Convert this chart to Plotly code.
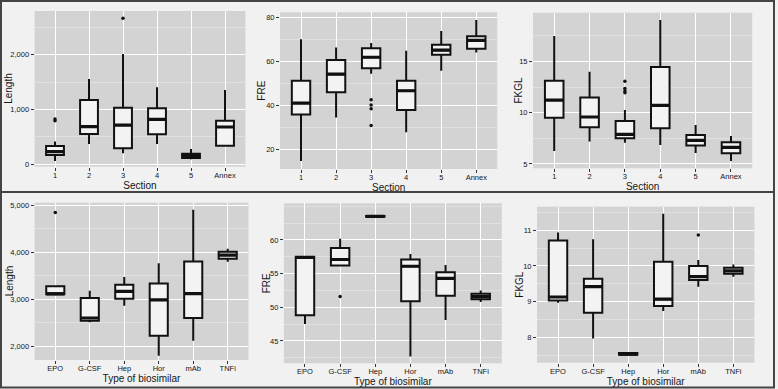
import plotly.graph_objects as go
from plotly.subplots import make_subplots

# ---------------- data ----------------
sections = ["1", "2", "3", "4", "5", "Annex"]
biosimilars = ["EPO", "G-CSF", "Hep", "Hor", "mAb", "TNFi"]

# Length by Section
len_sec_low = [55, 366, 195, 366, 85, 329]
len_sec_q1 = [165, 549, 287, 543, 110, 335]
len_sec_med = [225, 683, 713, 817, 152, 677]
len_sec_q3 = [330, 1171, 1030, 1018, 189, 793]
len_sec_high = [410, 1555, 2012, 1402, 274, 1354]
len_sec_out_x = ["1", "1", "3"]
len_sec_out_y = [790, 825, 2665]

# FRE by Section
fre_sec_low = [14.9, 34.6, 54.4, 27.9, 55.8, 64.1]
fre_sec_q1 = [35.9, 46.0, 56.9, 38.0, 63.0, 65.8]
fre_sec_med = [41.1, 54.2, 61.9, 46.7, 65.1, 69.5]
fre_sec_q3 = [51.2, 60.6, 66.0, 51.2, 67.6, 71.4]
fre_sec_high = [70.1, 66.3, 68.3, 64.8, 73.8, 78.8]
fre_sec_out_x = ["3", "3", "3", "3"]
fre_sec_out_y = [30.9, 38.5, 40.3, 42.6]

# FKGL by Section
fk_sec_low = [6.27, 7.18, 7.08, 6.85, 6.07, 5.29]
fk_sec_q1 = [9.51, 8.57, 7.50, 8.47, 6.79, 6.04]
fk_sec_med = [11.23, 9.58, 7.89, 10.71, 7.31, 6.62]
fk_sec_q3 = [13.12, 11.49, 9.19, 14.45, 7.82, 7.11]
fk_sec_high = [17.47, 13.99, 10.26, 19.03, 8.80, 7.73]
fk_sec_out_x = ["3", "3", "3", "3"]
fk_sec_out_y = [11.95, 12.1, 12.35, 13.05]

# Length by type of biosimilar
len_bio_low = [3100, 2503, 2858, 1794, 2113, 3794]
len_bio_q1 = [3100, 2539, 3007, 2220, 2596, 3858]
len_bio_med = [3110, 2596, 3163, 2980, 3113, 3936]
len_bio_q3 = [3270, 3021, 3305, 3330, 3801, 4007]
len_bio_high = [3270, 3177, 3468, 3760, 4900, 4071]
len_bio_out_x = ["EPO"]
len_bio_out_y = [4844]

# FRE by type of biosimilar
fre_bio_low = [47.5, 56.2, 63.45, 42.7, 48.1, 50.8]
fre_bio_q1 = [48.8, 56.2, 63.45, 50.9, 51.7, 51.2]
fre_bio_med = [57.4, 57.1, 63.5, 56.1, 54.3, 51.6]
fre_bio_q3 = [57.5, 58.8, 63.58, 57.1, 55.2, 52.0]
fre_bio_high = [57.6, 60.2, 63.58, 57.9, 56.3, 52.5]
fre_bio_out_x = ["G-CSF"]
fre_bio_out_y = [51.6]

# FKGL by type of biosimilar
fk_bio_low = [8.97, 7.97, 7.51, 8.74, 9.42, 9.70]
fk_bio_q1 = [9.03, 8.69, 7.51, 8.88, 9.61, 9.78]
fk_bio_med = [9.13, 9.42, 7.53, 9.07, 9.70, 9.86]
fk_bio_q3 = [10.71, 9.64, 7.56, 10.12, 10.00, 9.95]
fk_bio_high = [10.94, 10.75, 7.56, 11.46, 10.17, 10.04]
fk_bio_out_x = ["mAb"]
fk_bio_out_y = [10.87]

# ---------------- styling ----------------
W, H = 778, 389
PANEL_BG = "#d3d3d3"
PAPER_BG = "#f1f1f1"
BOX_FILL = "#f3f3f3"
FONT = "Liberation Sans, Arial, sans-serif"

panels = [
    dict(row=1, col=1, cats=sections, low=len_sec_low, q1=len_sec_q1, med=len_sec_med, q3=len_sec_q3, high=len_sec_high,
         ox=len_sec_out_x, oy=len_sec_out_y, xt="Section", yt="Length", yr=[-49, 2799], tickvals=[0, 1000, 2000], minor=500,
         fmt=",", px=(34.6, 245.4), py=(11.0, 166.7), ytx=9),
    dict(row=1, col=2, cats=sections, low=fre_sec_low, q1=fre_sec_q1, med=fre_sec_med, q3=fre_sec_q3, high=fre_sec_high,
         ox=fre_sec_out_x, oy=fre_sec_out_y, xt="Section", yt="FRE", yr=[11.23, 82.27], tickvals=[20, 40, 60, 80], minor=10,
         fmt="", px=(280.0, 497.3), py=(12.3, 169.0), ytx=262),
    dict(row=1, col=3, cats=sections, low=fk_sec_low, q1=fk_sec_q1, med=fk_sec_med, q3=fk_sec_q3, high=fk_sec_high,
         ox=fk_sec_out_x, oy=fk_sec_out_y, xt="Section", yt="FKGL", yr=[4.58, 19.74], tickvals=[5, 10, 15], minor=2.5,
         fmt="", px=(533.0, 752.2), py=(12.7, 168.3), ytx=518),
    dict(row=2, col=1, cats=biosimilars, low=len_bio_low, q1=len_bio_q1, med=len_bio_med, q3=len_bio_q3, high=len_bio_high,
         ox=len_bio_out_x, oy=len_bio_out_y, xt="Type of biosimilar", yt="Length", yr=[1702, 5050],
         tickvals=[2000, 3000, 4000, 5000], minor=500, fmt=",", px=(34.6, 248.4), py=(202.7, 360.0), ytx=9),
    dict(row=2, col=2, cats=biosimilars, low=fre_bio_low, q1=fre_bio_q1, med=fre_bio_med, q3=fre_bio_q3, high=fre_bio_high,
         ox=fre_bio_out_x, oy=fre_bio_out_y, xt="Type of biosimilar", yt="FRE", yr=[41.68, 65.45],
         tickvals=[45, 50, 55, 60], minor=2.5, fmt="", px=(283.9, 501.8), py=(203.3, 363.3), ytx=266),
    dict(row=2, col=3, cats=biosimilars, low=fk_bio_low, q1=fk_bio_q1, med=fk_bio_med, q3=fk_bio_q3, high=fk_bio_high,
         ox=fk_bio_out_x, oy=fk_bio_out_y, xt="Type of biosimilar", yt="FKGL", yr=[7.29, 11.66],
         tickvals=[8, 9, 10, 11], minor=0.5, fmt="", px=(537.0, 754.4), py=(206.7, 362.7), ytx=520),
]

fig = make_subplots(rows=2, cols=3)

for p in panels:
    # box body, whiskers
    fig.add_trace(go.Box(
        x=p["cats"], q1=p["q1"], median=p["med"], q3=p["q3"],
        lowerfence=p["low"], upperfence=p["high"],
        fillcolor=BOX_FILL, line=dict(color="#111111", width=2),
        boxpoints=False, showlegend=False, whiskerwidth=0, hoverinfo="skip",
    ), row=p["row"], col=p["col"])
    # thicker median bar (ggplot-style), drawn as a collapsed box at the median
    fig.add_trace(go.Box(
        x=p["cats"], q1=p["med"], median=p["med"], q3=p["med"],
        lowerfence=p["med"], upperfence=p["med"],
        fillcolor="rgba(0,0,0,0)", line=dict(color="#111111", width=3.2),
        boxpoints=False, showlegend=False, whiskerwidth=0,
    ), row=p["row"], col=p["col"])
    # outliers
    fig.add_trace(go.Scatter(
        x=p["ox"], y=p["oy"], mode="markers",
        marker=dict(color="#111111", size=3.5), showlegend=False,
    ), row=p["row"], col=p["col"])

axis_font = dict(family=FONT, size=7.5, color="#151515")
title_font = dict(family=FONT, size=10, color="#151515")

annotations = []
for i, p in enumerate(panels):
    n = "" if i == 0 else str(i + 1)
    x0, x1 = p["px"]
    y0, y1 = p["py"]
    fig.layout["xaxis" + n].update(
        domain=[x0 / W, x1 / W], type="category", categoryorder="array", categoryarray=p["cats"],
        range=[-0.6, len(p["cats"]) - 0.4], showgrid=True, gridcolor="white", gridwidth=1.2,
        ticks="outside", ticklen=3, tickcolor="#333333", tickwidth=1, tickfont=axis_font,
        ticklabelstandoff=-2,
        title=dict(text=p["xt"], font=title_font, standoff=0), zeroline=False, showline=False,
        automargin=False,
    )
    fig.layout["yaxis" + n].update(
        domain=[1 - y1 / H, 1 - y0 / H], range=p["yr"], tickvals=p["tickvals"], tickformat=p["fmt"],
        showgrid=True, gridcolor="white", gridwidth=1.2,
        minor=dict(dtick=p["minor"], tick0=0, showgrid=True, gridcolor="#e0e0e0", gridwidth=0.6),
        ticks="outside", ticklen=3, tickcolor="#333333", tickwidth=1, tickfont=axis_font,
        zeroline=False, showline=False, automargin=False,
    )
    annotations.append(dict(
        text=p["yt"], textangle=-90, xref="paper", yref="paper",
        x=p["ytx"] / W, y=1 - (y0 + y1) / 2 / H, xanchor="center", yanchor="middle",
        showarrow=False, font=title_font,
    ))

# frames around the two rows
fig.add_shape(type="rect", xref="paper", yref="paper", x0=1 / W, x1=774 / W, y0=1 - 192 / H, y1=1 - 1 / H,
              line=dict(color="#444444", width=2), layer="above")
fig.add_shape(type="rect", xref="paper", yref="paper", x0=1 / W, x1=774 / W, y0=1 - 387.5 / H, y1=1 - 192 / H,
              line=dict(color="#444444", width=2), layer="above")

fig.update_layout(
    width=W, height=H, autosize=False,
    margin=dict(l=0, r=0, t=0, b=0),
    paper_bgcolor=PAPER_BG, plot_bgcolor=PANEL_BG,
    boxmode="overlay", boxgap=0.25, font=dict(family=FONT),
    annotations=annotations,
)

fig.write_html("out.html", config={"displayModeBar": False},
               post_script="document.body.style.margin='0';document.body.style.overflow='hidden';")
